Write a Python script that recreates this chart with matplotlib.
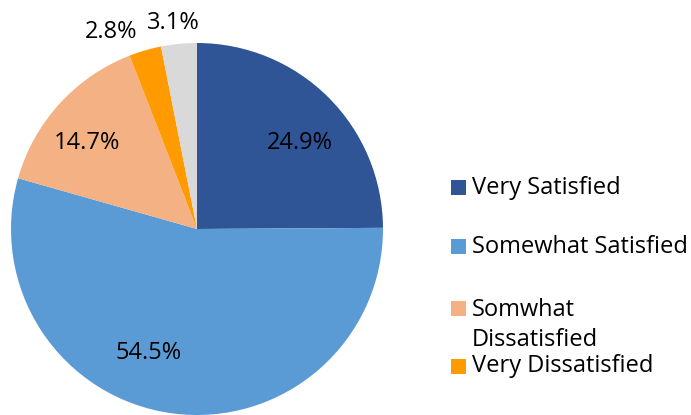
"""
Satisfaction pie chart
"""

import matplotlib.pyplot as plt
from matplotlib.patches import Rectangle

# Data
categories = [
    "Very Satisfied",
    "Somewhat Satisfied",
    "Somwhat\nDissatisfied",
    "Very Dissatisfied",
    "No Answer",
]
shares = [24.9, 54.5, 14.7, 2.8, 3.1]
legend_names = categories[:4]

# Style
colors = ["#2F5597", "#5B9BD5", "#F4B183", "#FF9A00", "#D9D9D9"]
label_xy = [(0.555, 0.46), (-0.26, -0.665), (-0.59, 0.46), (-0.46, 1.06), (-0.13, 1.11)]
legend_y = [188, 247, 308, 366]  # pixel rows from top

plt.rcParams["font.family"] = ["Open Sans", "DejaVu Sans"]

W, H = 691, 415
fig = plt.figure(figsize=(W / 100, H / 100), dpi=100, facecolor="white")

# Pie axes: centre (197, 229) px, radius 186 px
cx, cy, r = 197, 229, 186
ax = fig.add_axes([(cx - r) / W, (H - cy - r) / H, 2 * r / W, 2 * r / H])
wedges, _ = ax.pie(
    shares,
    colors=colors,
    startangle=90,
    counterclock=False,
    radius=1,
    wedgeprops={"linewidth": 0},
)
ax.set_xlim(-1, 1)
ax.set_ylim(-1, 1)
ax.set_aspect("auto")
ax.axis("off")

# Percent labels
for val, (x, y) in zip(shares, label_xy):
    ax.text(x, y, f"{val}%", ha="center", va="center", fontsize=17,
            color="black", clip_on=False)

# Legend (drawn by hand to match spacing)
for name, col, y in zip(legend_names, colors, legend_y):
    fig.patches.append(
        Rectangle((451 / W, (H - y - 7.5) / H), 15 / W, 15 / H,
                  transform=fig.transFigure, facecolor=col, edgecolor="none")
    )
    if "\n" in name:
        fig.text(472 / W, (H - y + 10) / H, name, fontsize=17, ha="left",
                 va="top", linespacing=1.32, transform=fig.transFigure)
    else:
        fig.text(472 / W, (H - y) / H, name, fontsize=17, ha="left",
                 va="center", transform=fig.transFigure)

fig.savefig("out.png", dpi=100, facecolor="white")
